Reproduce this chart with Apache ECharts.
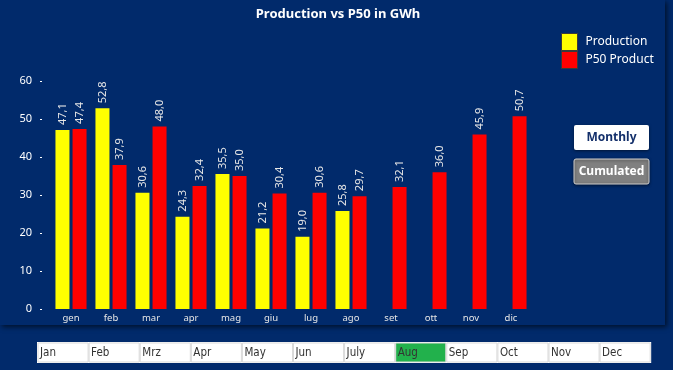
<!DOCTYPE html>
<html>
<head>
<meta charset="utf-8">
<script src="https://cdn.jsdelivr.net/npm/echarts@6/dist/echarts.min.js"></script>
<style>
html,body{margin:0;padding:0;background:#012a6b;}
#chart{width:673px;height:370px;}
</style>
</head>
<body>
<div id="chart"></div>
<script>
var categories = ['gen','feb','mar','apr','mag','giu','lug','ago','set','ott','nov','dic'];
var production = [47.1,52.8,30.6,24.3,35.5,21.2,19.0,25.8,null,null,null,null];
var p50 = [47.4,37.9,48.0,32.4,35.0,30.4,30.6,29.7,32.1,36.0,45.9,50.7];
var yTicks = [0,10,20,30,40,50,60];
var months = ['Jan','Feb','Mrz','Apr','May','Jun','July','Aug','Sep','Oct','Nov','Dec'];
var selectedMonth = 'Aug';
var seriesNames = ['Production','P50 Product'];

var FONT = '"Noto Sans", "DejaVu Sans", sans-serif';
var chart = echarts.init(document.getElementById('chart'), null, {renderer:'canvas'});

function fmt(p){ return p.value == null ? '' : p.value.toFixed(1).replace('.', ','); }

var labelCfg = {
  show:true, position:'top', rotate:90, distance:5, align:'left', verticalAlign:'middle',
  color:'#e6e6e6', fontSize:11, fontFamily:FONT, formatter:fmt
};

// bottom month strip
var stripX = 37, stripY = 342, cellW = 51.1, cellH = 21;
var strip = [{type:'rect', shape:{x:stripX, y:stripY, width:cellW*months.length+1, height:cellH}, style:{fill:'#ffffff'}, z:1}];
months.forEach(function(m,i){
  strip.push({type:'rect', shape:{x:stripX+1+i*cellW, y:stripY+1, width:cellW-1, height:cellH-2},
    style:{fill: m===selectedMonth ? '#22b14c' : '#ffffff', stroke:'#d9d9d9', lineWidth:1}, z:2});
  strip.push({type:'text', x:stripX+3+i*cellW, y:stripY+cellH/2+0.5,
    style:{text:m, fill:'#333333', font:'11.5px "DejaVu Sans Condensed", "Liberation Sans", sans-serif', verticalAlign:'middle'}, z:3});
});

var graphics = [
  {type:'rect', shape:{x:0,y:0,width:665,height:325},
    style:{fill:'#012a6b', shadowBlur:5, shadowOffsetX:2, shadowOffsetY:2, shadowColor:'rgba(0,0,0,0.6)'}, z:-10, silent:true},
  {type:'group', children:[
    {type:'rect', shape:{x:574,y:125,width:75,height:25,r:2}, style:{fill:'#ffffff', shadowBlur:3, shadowOffsetY:1, shadowColor:'rgba(0,0,0,0.5)'}},
    {type:'text', x:611.5, y:137.5, style:{text:'Monthly', fill:'#14306b', font:'bold 12px '+FONT, align:'center', verticalAlign:'middle'}}
  ]},
  {type:'group', children:[
    {type:'rect', shape:{x:574,y:159,width:75,height:25,r:2}, style:{fill:'#808080', stroke:'#d0d0d0', lineWidth:1, shadowBlur:3, shadowOffsetY:1, shadowColor:'rgba(0,0,0,0.5)'}},
    {type:'text', x:611.5, y:171.5, style:{text:'Cumulated', fill:'#ffffff', font:'bold 12px '+FONT, align:'center', verticalAlign:'middle'}}
  ]}
].concat(strip);

chart.setOption({
  backgroundColor:'#012a6b',
  animation:false,
  title:{text:'Production vs P50 in GWh', left:333, textAlign:'center', top:3,
    textStyle:{color:'#ffffff', fontSize:13, fontWeight:'bold', fontFamily:FONT}},
  legend:{
    orient:'vertical', left:561, top:33, padding:0, itemGap:0, itemWidth:16, itemHeight:17,
    icon:'rect', data:seriesNames,
    textStyle:{color:'#ffffff', fontSize:12, fontFamily:FONT, padding:[0,0,0,3]},
    itemStyle:{borderColor:'#3a3a3a', borderWidth:1}
  },
  grid:{left:51, width:480, top:81, bottom:61, containLabel:false},
  xAxis:{
    type:'category', data:categories,
    axisLine:{show:false}, axisTick:{show:false},
    axisLabel:{color:'#e6e6e6', fontSize:9.5, fontFamily:FONT, margin:4}
  },
  yAxis:{
    type:'value', min:yTicks[0], max:yTicks[yTicks.length-1], interval:10, offset:9,
    splitLine:{show:false},
    axisLine:{show:false},
    axisTick:{show:true, length:2, lineStyle:{color:'#ffffff'}},
    axisLabel:{color:'#ffffff', fontSize:11, fontFamily:FONT, margin:10}
  },
  series:[
    {name:seriesNames[0], type:'bar', data:production, barWidth:14, barGap:'22%',
      itemStyle:{color:'#ffff00'}, label:labelCfg},
    {name:seriesNames[1], type:'bar', data:p50, barWidth:14,
      itemStyle:{color:'#ff0000'}, label:labelCfg}
  ],
  graphic:graphics
});
</script>
</body>
</html>
